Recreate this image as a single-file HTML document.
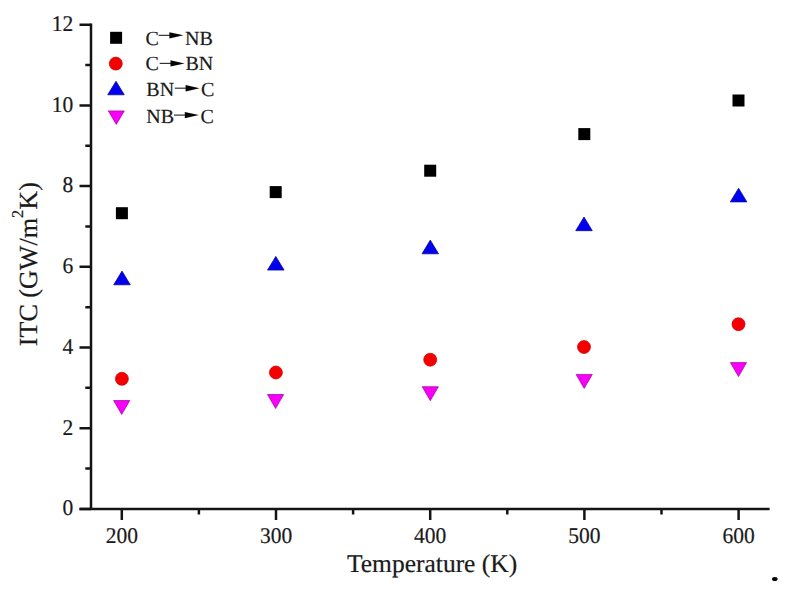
<!DOCTYPE html>
<html><head><meta charset="utf-8">
<style>
html,body{margin:0;padding:0;background:#fff;width:794px;height:590px;overflow:hidden}
svg{display:block}
text{font-family:"Liberation Serif",serif;fill:#1a1a1a;stroke:#1a1a1a;stroke-width:0.2px;text-rendering:geometricPrecision}
</style></head><body>
<svg width="794" height="590" viewBox="0 0 794 590">
<g stroke="#141414" stroke-width="2.5" fill="none" stroke-linecap="butt">
<!-- axes -->
<path d="M91 23.5 V509 M79.5 509 H769.6"/>
<!-- y major ticks -->
<path d="M79.5 508.90 H91 M79.5 428.20 H91 M79.5 347.50 H91 M79.5 266.80 H91 M79.5 186.10 H91 M79.5 105.40 H91 M79.5 24.70 H91"/>
<!-- y minor ticks -->
<path d="M85.3 468.55 H91 M85.3 387.85 H91 M85.3 307.15 H91 M85.3 226.45 H91 M85.3 145.75 H91 M85.3 65.05 H91"/>
<!-- x major ticks -->
<path d="M121.8 509 V520 M276 509 V520 M430.2 509 V520 M584.4 509 V520 M738.6 509 V520"/>
<!-- x minor ticks -->
<path d="M198.9 509 V514.6 M353.1 509 V514.6 M507.3 509 V514.6 M661.5 509 V514.6"/>
</g>
<!-- y tick labels -->
<g font-size="21.5" text-anchor="end">
<text transform="translate(73.3 31.00) scale(1 1.045)">12</text>
<text transform="translate(73.3 111.70) scale(1 1.045)">10</text>
<text transform="translate(73.3 192.40) scale(1 1.045)">8</text>
<text transform="translate(73.3 273.10) scale(1 1.045)">6</text>
<text transform="translate(73.3 353.80) scale(1 1.045)">4</text>
<text transform="translate(73.3 434.50) scale(1 1.045)">2</text>
<text transform="translate(73.3 515.20) scale(1 1.045)">0</text>
</g>
<!-- x tick labels -->
<g font-size="21.5" text-anchor="middle">
<text transform="translate(121.8 542.8) scale(1 1.045)">200</text>
<text transform="translate(276 542.8) scale(1 1.045)">300</text>
<text transform="translate(430.2 542.8) scale(1 1.045)">400</text>
<text transform="translate(584.4 542.8) scale(1 1.045)">500</text>
<text transform="translate(738.6 542.8) scale(1 1.045)">600</text>
</g>
<!-- axis titles -->
<text x="432.1" y="572.2" font-size="25.5" text-anchor="middle">Temperature (K)</text>
<text transform="translate(37.0 264.2) rotate(-90)" font-size="26.1" text-anchor="middle">ITC (GW/m<tspan font-size="16.5" dy="-14">2</tspan><tspan dy="14">K)</tspan></text>

<!-- data: squares -->
<g fill="#000">
<rect x="115.90" y="207.20" width="12" height="12"/>
<rect x="269.70" y="186.10" width="12" height="12"/>
<rect x="424.20" y="164.70" width="12" height="12"/>
<rect x="578.30" y="128.10" width="12" height="12"/>
<rect x="732.50" y="94.50" width="12" height="12"/>
</g>
<!-- circles -->
<g fill="#f40000" stroke="#c80000" stroke-width="0.7">
<circle cx="121.9" cy="378.8" r="6.5"/>
<circle cx="275.9" cy="372.5" r="6.5"/>
<circle cx="430.2" cy="359.7" r="6.5"/>
<circle cx="584" cy="347" r="6.5"/>
<circle cx="738.5" cy="324.2" r="6.5"/>
</g>
<!-- up triangles -->
<g fill="#0000ee" stroke="#000090" stroke-width="0.7" stroke-linejoin="round">
<path d="M122 271.1 L130.3 284.8 L113.7 284.8 Z"/>
<path d="M275.8 256.4 L284.1 270.1 L267.5 270.1 Z"/>
<path d="M430.3 240.1 L438.6 253.8 L422 253.8 Z"/>
<path d="M584 217 L592.3 230.7 L575.7 230.7 Z"/>
<path d="M738.6 188.2 L746.9 201.9 L730.3 201.9 Z"/>
</g>
<!-- down triangles -->
<g fill="#f800f8" stroke="#a000a0" stroke-width="0.7" stroke-linejoin="round">
<path d="M121.7 414.5 L129.8 400.5 L113.6 400.5 Z"/>
<path d="M275.6 408.5 L283.7 394.5 L267.5 394.5 Z"/>
<path d="M430.3 400.7 L438.4 386.7 L422.2 386.7 Z"/>
<path d="M584.2 388.4 L592.3 374.4 L576.1 374.4 Z"/>
<path d="M738.5 376.6 L746.6 362.6 L730.4 362.6 Z"/>
</g>

<!-- legend -->
<rect x="110.10" y="31.80" width="12" height="12" fill="#000"/>
<circle cx="115.8" cy="63.6" r="6.5" fill="#f40000" stroke="#c80000" stroke-width="0.7"/>
<path d="M116 81.2 L124.3 94.8 L107.7 94.8 Z" fill="#0000ee" stroke="#000090" stroke-width="0.7" stroke-linejoin="round"/>
<path d="M116.3 124.4 L124.3 110.9 L108.3 110.9 Z" fill="#f800f8" stroke="#a000a0" stroke-width="0.7" stroke-linejoin="round"/>
<g font-size="20">
<text x="145.5" y="44.8">C</text><text x="185" y="44.8">NB</text>
<text x="145.5" y="70.4">C</text><text x="185.5" y="70.4">BN</text>
<text x="146.3" y="96.4">BN</text><text x="201" y="96.4">C</text>
<text x="146.3" y="122.9">NB</text><text x="200.5" y="122.9">C</text>
</g>
<path d="M158.60 35.35 H170.10" stroke="#333" stroke-width="1.2" fill="none"/><path d="M169.40 32.15 L183.40 35.35 L169.40 38.55 Z" fill="#050505"/>
<path d="M159.70 63.40 H171.20" stroke="#333" stroke-width="1.2" fill="none"/><path d="M170.50 60.20 L184.50 63.40 L170.50 66.60 Z" fill="#050505"/>
<path d="M174.80 88.20 H186.30" stroke="#333" stroke-width="1.2" fill="none"/><path d="M185.60 85.00 L199.60 88.20 L185.60 91.40 Z" fill="#050505"/>
<path d="M174.00 115.10 H185.50" stroke="#333" stroke-width="1.2" fill="none"/><path d="M184.80 111.90 L198.80 115.10 L184.80 118.30 Z" fill="#050505"/>
<ellipse cx="774.8" cy="579" rx="2.8" ry="2.1" fill="#000"/>
</svg>
</body></html>
